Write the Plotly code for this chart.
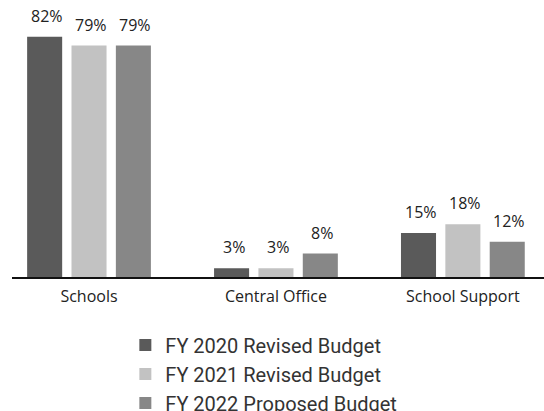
import plotly.graph_objects as go

categories = ["Schools", "Central Office", "School Support"]
series_names = ["FY 2020 Revised Budget", "FY 2021 Revised Budget", "FY 2022 Proposed Budget"]
fy2020 = [82, 3, 15]
fy2021 = [79, 3, 18]
fy2022 = [79, 8, 12]
series_values = [fy2020, fy2021, fy2022]
colors = ["#5a5a5a", "#c2c2c2", "#878787"]

BARGAP = 0.288
GROUPGAP = 0.21

fig = go.Figure()
for name, vals, col in zip(series_names, series_values, colors):
    fig.add_trace(go.Bar(
        x=categories, y=vals, name=name,
        marker=dict(color=col, line=dict(width=0)),
        hoverinfo="skip",
    ))

# value labels above each bar
slot = (1 - BARGAP) / len(series_values)
for j, vals in enumerate(series_values):
    for i, v in enumerate(vals):
        fig.add_annotation(
            x=i + (j - (len(series_values) - 1) / 2) * slot, y=v,
            xref="x", yref="y",
            text=f"{v}%", showarrow=False,
            yanchor="bottom", yshift=8, xshift=2,
            font=dict(family="Open Sans", size=16, color="#222222"),
        )

fig.update_layout(
    width=544, height=411,
    margin=dict(l=12, r=0, t=28, b=134, autoexpand=False),
    paper_bgcolor="white", plot_bgcolor="white",
    barmode="group", bargap=BARGAP, bargroupgap=GROUPGAP,
    showlegend=True,
    legend=dict(
        orientation="v", xref="container", yref="container",
        x=0.485, xanchor="center", y=0.208, yanchor="top",
        font=dict(family="Roboto", size=20, color="#333333"),
        itemwidth=30, bgcolor="rgba(0,0,0,0)",
        tracegroupgap=0,
    ),
    xaxis=dict(
        type="category", range=[-0.412, 2.434],
        showline=True, linecolor="#111111", linewidth=2,
        showgrid=False, ticks="", tickangle=0,
        ticklabelstandoff=4,
        tickfont=dict(family="Open Sans", size=16, color="#222222"),
    ),
    yaxis=dict(range=[0, 85], visible=False, showgrid=False, zeroline=False),
)

fig.write_html("out.html")
